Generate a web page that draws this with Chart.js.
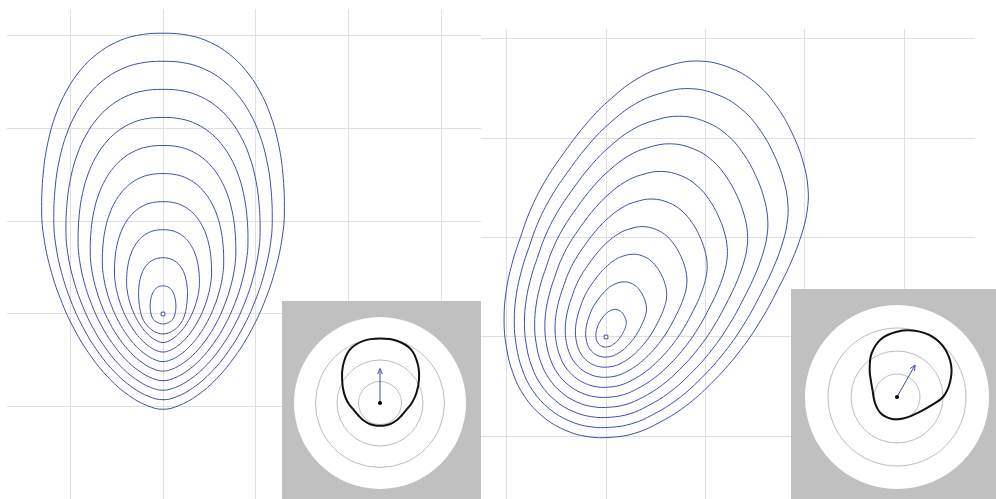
<!DOCTYPE html>
<html><head><meta charset="utf-8">
<script src="https://cdn.jsdelivr.net/npm/chart.js@4/dist/chart.umd.min.js"></script>
<style>
html,body{margin:0;padding:0;width:996px;height:499px;overflow:hidden;background:#fff;}
.box{position:absolute;}
canvas{display:block;}
</style></head><body>
<div class="box" style="left:7px;top:9px;width:474px;height:490px;"><canvas id="mainL"></canvas></div>
<div class="box" style="left:481px;top:29px;width:494px;height:470px;"><canvas id="mainR"></canvas></div>
<div class="box" style="left:282px;top:301px;width:199px;height:198px;background:#c0c0c0;"></div>
<div class="box" style="left:294px;top:317px;width:172px;height:172px;"><canvas id="insetL"></canvas></div>
<div class="box" style="left:791px;top:289px;width:205px;height:210px;background:#c0c0c0;"></div>
<div class="box" style="left:805px;top:305px;width:184px;height:184px;"><canvas id="insetR"></canvas></div>
<script>
// ---------- data ----------
// grid tick values (both panels)
const xTicks = [-1, 0, 1, 2, 3];
const yTicks = [-1, 0, 1, 2, 3];

// marker (minimum) position
const markerX = [0];
const markerY = [0];

// left panel: two innermost contours, read individually (clockwise from the top)
const leftC1X = [0, 0.029, 0.052, 0.072, 0.089, 0.104, 0.116, 0.126, 0.133, 0.138, 0.139, 0.134, 0.122, 0.104, 0.076, 0.040,
  0, -0.040, -0.076, -0.104, -0.122, -0.134, -0.139, -0.138, -0.133, -0.126, -0.116, -0.104, -0.089, -0.072, -0.052, -0.029];
const leftC1Y = [0.302, 0.300, 0.293, 0.280, 0.263, 0.241, 0.216, 0.186, 0.152, 0.110, 0.070, 0.025, -0.025, -0.058, -0.083, -0.101,
  -0.108, -0.101, -0.083, -0.058, -0.025, 0.025, 0.070, 0.110, 0.152, 0.186, 0.216, 0.241, 0.263, 0.280, 0.293, 0.300];
const leftC2X = [0, 0.057, 0.103, 0.143, 0.178, 0.208, 0.231, 0.248, 0.259, 0.264, 0.260, 0.250, 0.234, 0.210, 0.172, 0.120, 0.060,
  0, -0.060, -0.120, -0.172, -0.210, -0.234, -0.250, -0.260, -0.264, -0.259, -0.248, -0.231, -0.208, -0.178, -0.143, -0.103, -0.057];
const leftC2Y = [0.607, 0.601, 0.585, 0.560, 0.526, 0.483, 0.431, 0.372, 0.304, 0.220, 0.140, 0.060, -0.010, -0.070, -0.125, -0.172, -0.204,
  -0.216, -0.204, -0.172, -0.125, -0.070, -0.010, 0.060, 0.140, 0.220, 0.304, 0.372, 0.431, 0.483, 0.526, 0.560, 0.585, 0.601];

// left panel: outermost contour, clockwise from the top
const leftOuterX = [0, 0.285, 0.515, 0.716, 0.891, 1.038, 1.155, 1.240, 1.292, 1.309, 1.286, 1.217, 1.105, 0.957, 0.778, 0.579, 0.370, 0.167,
  0, -0.167, -0.370, -0.579, -0.778, -0.957, -1.105, -1.217, -1.286, -1.309, -1.292, -1.240, -1.155, -1.038, -0.891, -0.716, -0.515, -0.285];
const leftOuterY = [3.029, 3.004, 2.927, 2.802, 2.630, 2.413, 2.156, 1.859, 1.521, 1.100, 0.829, 0.498, 0.159, -0.165, -0.455, -0.697, -0.878, -0.990,
  -1.028, -0.990, -0.878, -0.697, -0.455, -0.165, 0.159, 0.498, 0.829, 1.100, 1.521, 1.859, 2.156, 2.413, 2.630, 2.802, 2.927, 3.004];
// the other left contours are nested copies of the outermost one at these fractions
const leftLevels = [0.3, 0.4, 0.5, 0.6, 0.7, 0.8, 0.9, 1.0];

// right panel: outermost contour, clockwise from the top
const rightOuterX = [0.926, 1.261, 1.529, 1.730, 1.881, 1.982, 2.032, 2.022, 1.962, 1.871, 1.761, 1.559, 1.328, 1.059, 0.792, 0.523, 0.289, 0.053,
  -0.181, -0.415, -0.634, -0.818, -0.936, -1.003, -1.026, -1.003, -0.936, -0.862, -0.768, -0.617, -0.415, -0.181, 0.053, 0.322, 0.591];
const rightOuterY = [2.777, 2.703, 2.535, 2.301, 2.032, 1.764, 1.499, 1.258, 1.016, 0.775, 0.543, 0.171, -0.164, -0.466, -0.701, -0.868, -0.969, -1.009,
  -1.003, -0.936, -0.802, -0.601, -0.365, -0.098, 0.171, 0.473, 0.775, 1.0, 1.261, 1.562, 1.864, 2.166, 2.401, 2.603, 2.719];
// right contours: nested copies of the outermost one at these fractions
const rightLevels = [0.1, 0.2, 0.3, 0.4, 0.5, 0.6, 0.7, 0.8, 0.9, 1.0];

// insets: polar curve radius, directions every 15 deg clockwise starting straight up
const insetAngles = ['90','75','60','45','30','15','0','-15','-30','-45','-60','-75','-90','-105','-120','-135','-150','-165','180','165','150','135','120','105'];
const insetLeftR  = [3.00, 3.00, 2.88, 2.50, 2.09, 1.75, 1.48, 1.26, 1.16, 1.12, 1.09, 1.07, 1.06, 1.07, 1.09, 1.12, 1.16, 1.26, 1.48, 1.73, 2.03, 2.44, 2.84, 2.99];
const insetRightR = [2.84, 2.98, 3.04, 2.95, 2.72, 2.38, 2.00, 1.50, 1.22, 1.07, 1.00, 0.97, 0.97, 0.98, 0.99, 1.00, 0.99, 0.99, 1.02, 1.10, 1.30, 1.68, 2.20, 2.62];
const insetRingTicks = [1, 2, 3, 4];
// inset arrows: direction (deg, counter-clockwise from +x) and length
const arrowAngle = [90, 60.5];
const arrowLength = [1.6, 1.6];

// ---------- styling ----------
const BLUE = '#3a4fae';
const GRID = '#e0e0e0';
const HIDDEN = 'rgba(0,0,0,0)';

// closed curve: wrap one point on each side so the smoothing is continuous; the wrap segments are hidden
function loopSet(xs, ys, k) {
  const n = xs.length;
  const L = n + 3;
  const idx = [n - 1].concat(xs.map((_, i) => i), [0, 1]);
  return {
    data: idx.map(i => ({x: xs[i] * k, y: ys[i] * k})),
    showLine: true, borderColor: BLUE, borderWidth: 1, pointRadius: 0, pointHoverRadius: 0,
    pointBorderWidth: 0, tension: 0.4, fill: false,
    segment: {borderColor: c => (c.p0DataIndex === 0 || c.p0DataIndex === L - 2) ? HIDDEN : undefined}
  };
}

function markerSet() {
  return {
    data: markerX.map((x, i) => ({x: x, y: markerY[i]})),
    showLine: false, pointStyle: 'rect', pointRadius: 2.6, pointHoverRadius: 2.6,
    pointBorderColor: BLUE, pointBackgroundColor: '#ffffff', pointBorderWidth: 1
  };
}

function axis(min, max, ticks) {
  return {
    type: 'linear', min: min, max: max,
    afterBuildTicks: a => { a.ticks = ticks.map(v => ({value: v})); },
    grid: {color: GRID, lineWidth: 1, drawTicks: false},
    border: {display: false},
    ticks: {display: false}
  };
}

function mainChart(id, datasets, xr, yr) {
  new Chart(document.getElementById(id), {
    type: 'scatter',
    data: {datasets: datasets},
    options: {
      responsive: true, maintainAspectRatio: false, animation: false, events: [],
      layout: {padding: 0, autoPadding: false},
      plugins: {legend: {display: false}, tooltip: {enabled: false}},
      scales: {x: axis(xr[0], xr[1], xTicks), y: axis(yr[0], yr[1], yTicks)}
    }
  });
}

const leftSets = [loopSet(leftC1X, leftC1Y, 1), loopSet(leftC2X, leftC2Y, 1)]
  .concat(leftLevels.map(k => loopSet(leftOuterX, leftOuterY, k)), [markerSet()]);
const rightSets = rightLevels.map(k => loopSet(rightOuterX, rightOuterY, k)).concat([markerSet()]);

mainChart('mainL', leftSets, [-1.683, 3.430], [-1.996, 3.290]);
mainChart('mainR', rightSets, [-1.258, 3.712], [-1.630, 3.099]);

const arrowPlugin = {
  id: 'insetArrow',
  afterDatasetsDraw(chart, args, opts) {
    const s = chart.scales.r;
    const ctx = chart.ctx;
    const a = -opts.angle * Math.PI / 180;
    const d = s.getDistanceFromCenterForValue(opts.length);
    const cx = s.xCenter, cy = s.yCenter;
    const tx = cx + Math.cos(a) * d, ty = cy + Math.sin(a) * d;
    ctx.save();
    ctx.strokeStyle = BLUE;
    ctx.lineWidth = 1;
    ctx.beginPath();
    ctx.moveTo(cx, cy);
    ctx.lineTo(tx, ty);
    ctx.stroke();
    const h = 6, w = 0.42;
    ctx.beginPath();
    ctx.moveTo(tx - h * Math.cos(a - w), ty - h * Math.sin(a - w));
    ctx.lineTo(tx, ty);
    ctx.lineTo(tx - h * Math.cos(a + w), ty - h * Math.sin(a + w));
    ctx.stroke();
    ctx.fillStyle = '#000';
    ctx.beginPath();
    ctx.arc(cx, cy, 2, 0, Math.PI * 2);
    ctx.fill();
    ctx.restore();
  }
};

function insetChart(id, r, idx) {
  new Chart(document.getElementById(id), {
    type: 'radar',
    data: {labels: insetAngles, datasets: [{
      data: r, borderColor: '#111', borderWidth: 2, pointRadius: 0, pointHoverRadius: 0,
      fill: false, tension: 0.4
    }]},
    options: {
      responsive: true, maintainAspectRatio: false, animation: false, events: [],
      layout: {padding: 0, autoPadding: false},
      plugins: {legend: {display: false}, tooltip: {enabled: false},
        insetArrow: {angle: arrowAngle[idx], length: arrowLength[idx]}},
      scales: {r: {
        min: 0, max: 4,
        afterBuildTicks: a => { a.ticks = [{value: 0}].concat(insetRingTicks.map(v => ({value: v}))); },
        backgroundColor: '#ffffff',
        grid: {circular: true, lineWidth: 1, color: c => (c.tick && c.tick.value >= 4) ? HIDDEN : '#bdbdbd'},
        angleLines: {display: false},
        pointLabels: {display: false},
        ticks: {display: false}
      }}
    },
    plugins: [arrowPlugin]
  });
}

insetChart('insetL', insetLeftR, 0);
insetChart('insetR', insetRightR, 1);
</script>
</body></html>
